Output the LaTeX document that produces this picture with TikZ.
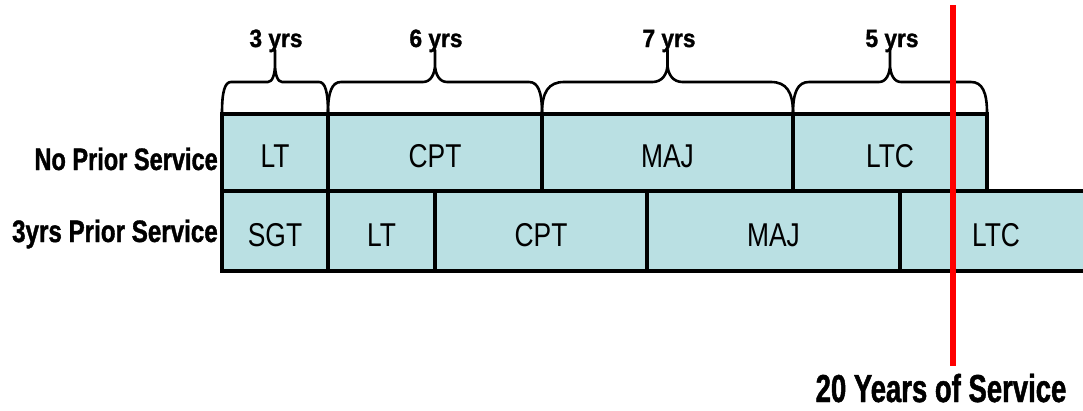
\documentclass[tikz,border=0pt]{standalone}
\usepackage{fontspec}
\setmainfont{Liberation Sans}
\newfontfamily\cellfnt[FakeStretch=0.8]{Liberation Sans}
\newfontfamily\rowfntA[FakeBold=1.2,FakeStretch=0.76]{Liberation Sans Bold}
\newfontfamily\rowfntB[FakeBold=1.2,FakeStretch=0.78]{Liberation Sans Bold}
\newfontfamily\yrsfnt[FakeBold=1.2,FakeStretch=0.91]{Liberation Sans Bold}
\newfontfamily\bigfnt[FakeBold=1.2,FakeStretch=0.705]{Liberation Sans Bold}
\definecolor{cellfill}{RGB}{186,224,227}
\definecolor{redline}{RGB}{255,0,0}
\newcommand\cellfont{\fontsize{33}{33}\cellfnt}
\newcommand\yrsfont{\fontsize{25}{25}\yrsfnt}
\newcommand\bigfont{\fontsize{39}{39}\bigfnt}
\tikzset{
  cell/.style={draw=black, fill=cellfill, line width=4pt, rectangle, inner sep=0pt, outer sep=0pt, text height=30pt, text depth=0pt, font=\cellfont},
  rowlabel/.style={anchor=base east, inner sep=0pt},
  yrslabel/.style={anchor=base, inner sep=0pt, font=\yrsfont},
  biglabel/.style={anchor=base, inner sep=0pt, font=\bigfont},
  bracel/.style={draw=black, line width=2.6pt, line cap=round, line join=round},
  mark20/.style={draw=redline, line width=6pt}
}
% \ybrace{xa}{xb}{end radius}{tip half width}
\newcommand\ybrace[4]{%
  \draw[bracel] (#1,113) .. controls (#1,92) and ({#1+#3*0.3},82) .. ({#1+#3},82)
    -- ({(#1+#2)/2-#4},82) .. controls ({(#1+#2)/2-#4*0.35},82) and ({(#1+#2)/2},74) .. ({(#1+#2)/2},64)
    -- ({(#1+#2)/2},50)
    ({(#1+#2)/2},64) .. controls ({(#1+#2)/2},74) and ({(#1+#2)/2+#4*0.35},82) .. ({(#1+#2)/2+#4},82)
    -- ({#2-#3},82) .. controls ({#2-#3*0.3},82) and (#2,92) .. (#2,113);}
\begin{document}
\begin{tikzpicture}[x=1pt,y=-1pt]
\useasboundingbox (0,0) rectangle (1083,410);
\clip (0,0) rectangle (1083,410);
% row 1
\node[cell, minimum width=106pt, minimum height=77pt] (a1) at (275,152.5) {LT};
\node[cell, minimum width=214pt, minimum height=77pt] (a2) at (435,152.5) {CPT};
\node[cell, minimum width=251pt, minimum height=77pt] (a3) at (667.5,152.5) {MAJ};
\node[cell, minimum width=194pt, minimum height=77pt] (a4) at (890,152.5) {LTC};
% row 2
\node[cell, minimum width=106pt, minimum height=80pt] (b1) at (275,231) {SGT};
\node[cell, minimum width=107pt, minimum height=80pt] (b2) at (381.5,231) {LT};
\node[cell, minimum width=212pt, minimum height=80pt] (b3) at (541,231) {CPT};
\node[cell, minimum width=253pt, minimum height=80pt] (b4) at (773.5,231) {MAJ};
\node[cell, minimum width=192pt, minimum height=80pt] (b5) at (996,231) {LTC};
% row labels
\node[rowlabel, font=\fontsize{31}{31}\rowfntA] (r1) at (218,170) {No Prior Service};
\node[rowlabel, font=\fontsize{31}{31}\rowfntB] (r2) at (218,242) {3yrs Prior Service};
% braces
\ybrace{222}{328}{9}{7}
\ybrace{328}{542}{13}{12}
\ybrace{542}{793}{22}{15}
\ybrace{793}{987}{16}{11}
\node[yrslabel] (y1) at (276,47) {3 yrs};
\node[yrslabel] (y2) at (436,47) {6 yrs};
\node[yrslabel] (y3) at (669,47) {7 yrs};
\node[yrslabel] (y4) at (892,47) {5 yrs};
% 20 years marker
\coordinate (m1) at (953,5);
\coordinate (m2) at (953,366);
\draw[mark20] (m1) -- (m2);
\node[biglabel] (t20) at (941,402) {20 Years of Service};
\end{tikzpicture}
\end{document}
